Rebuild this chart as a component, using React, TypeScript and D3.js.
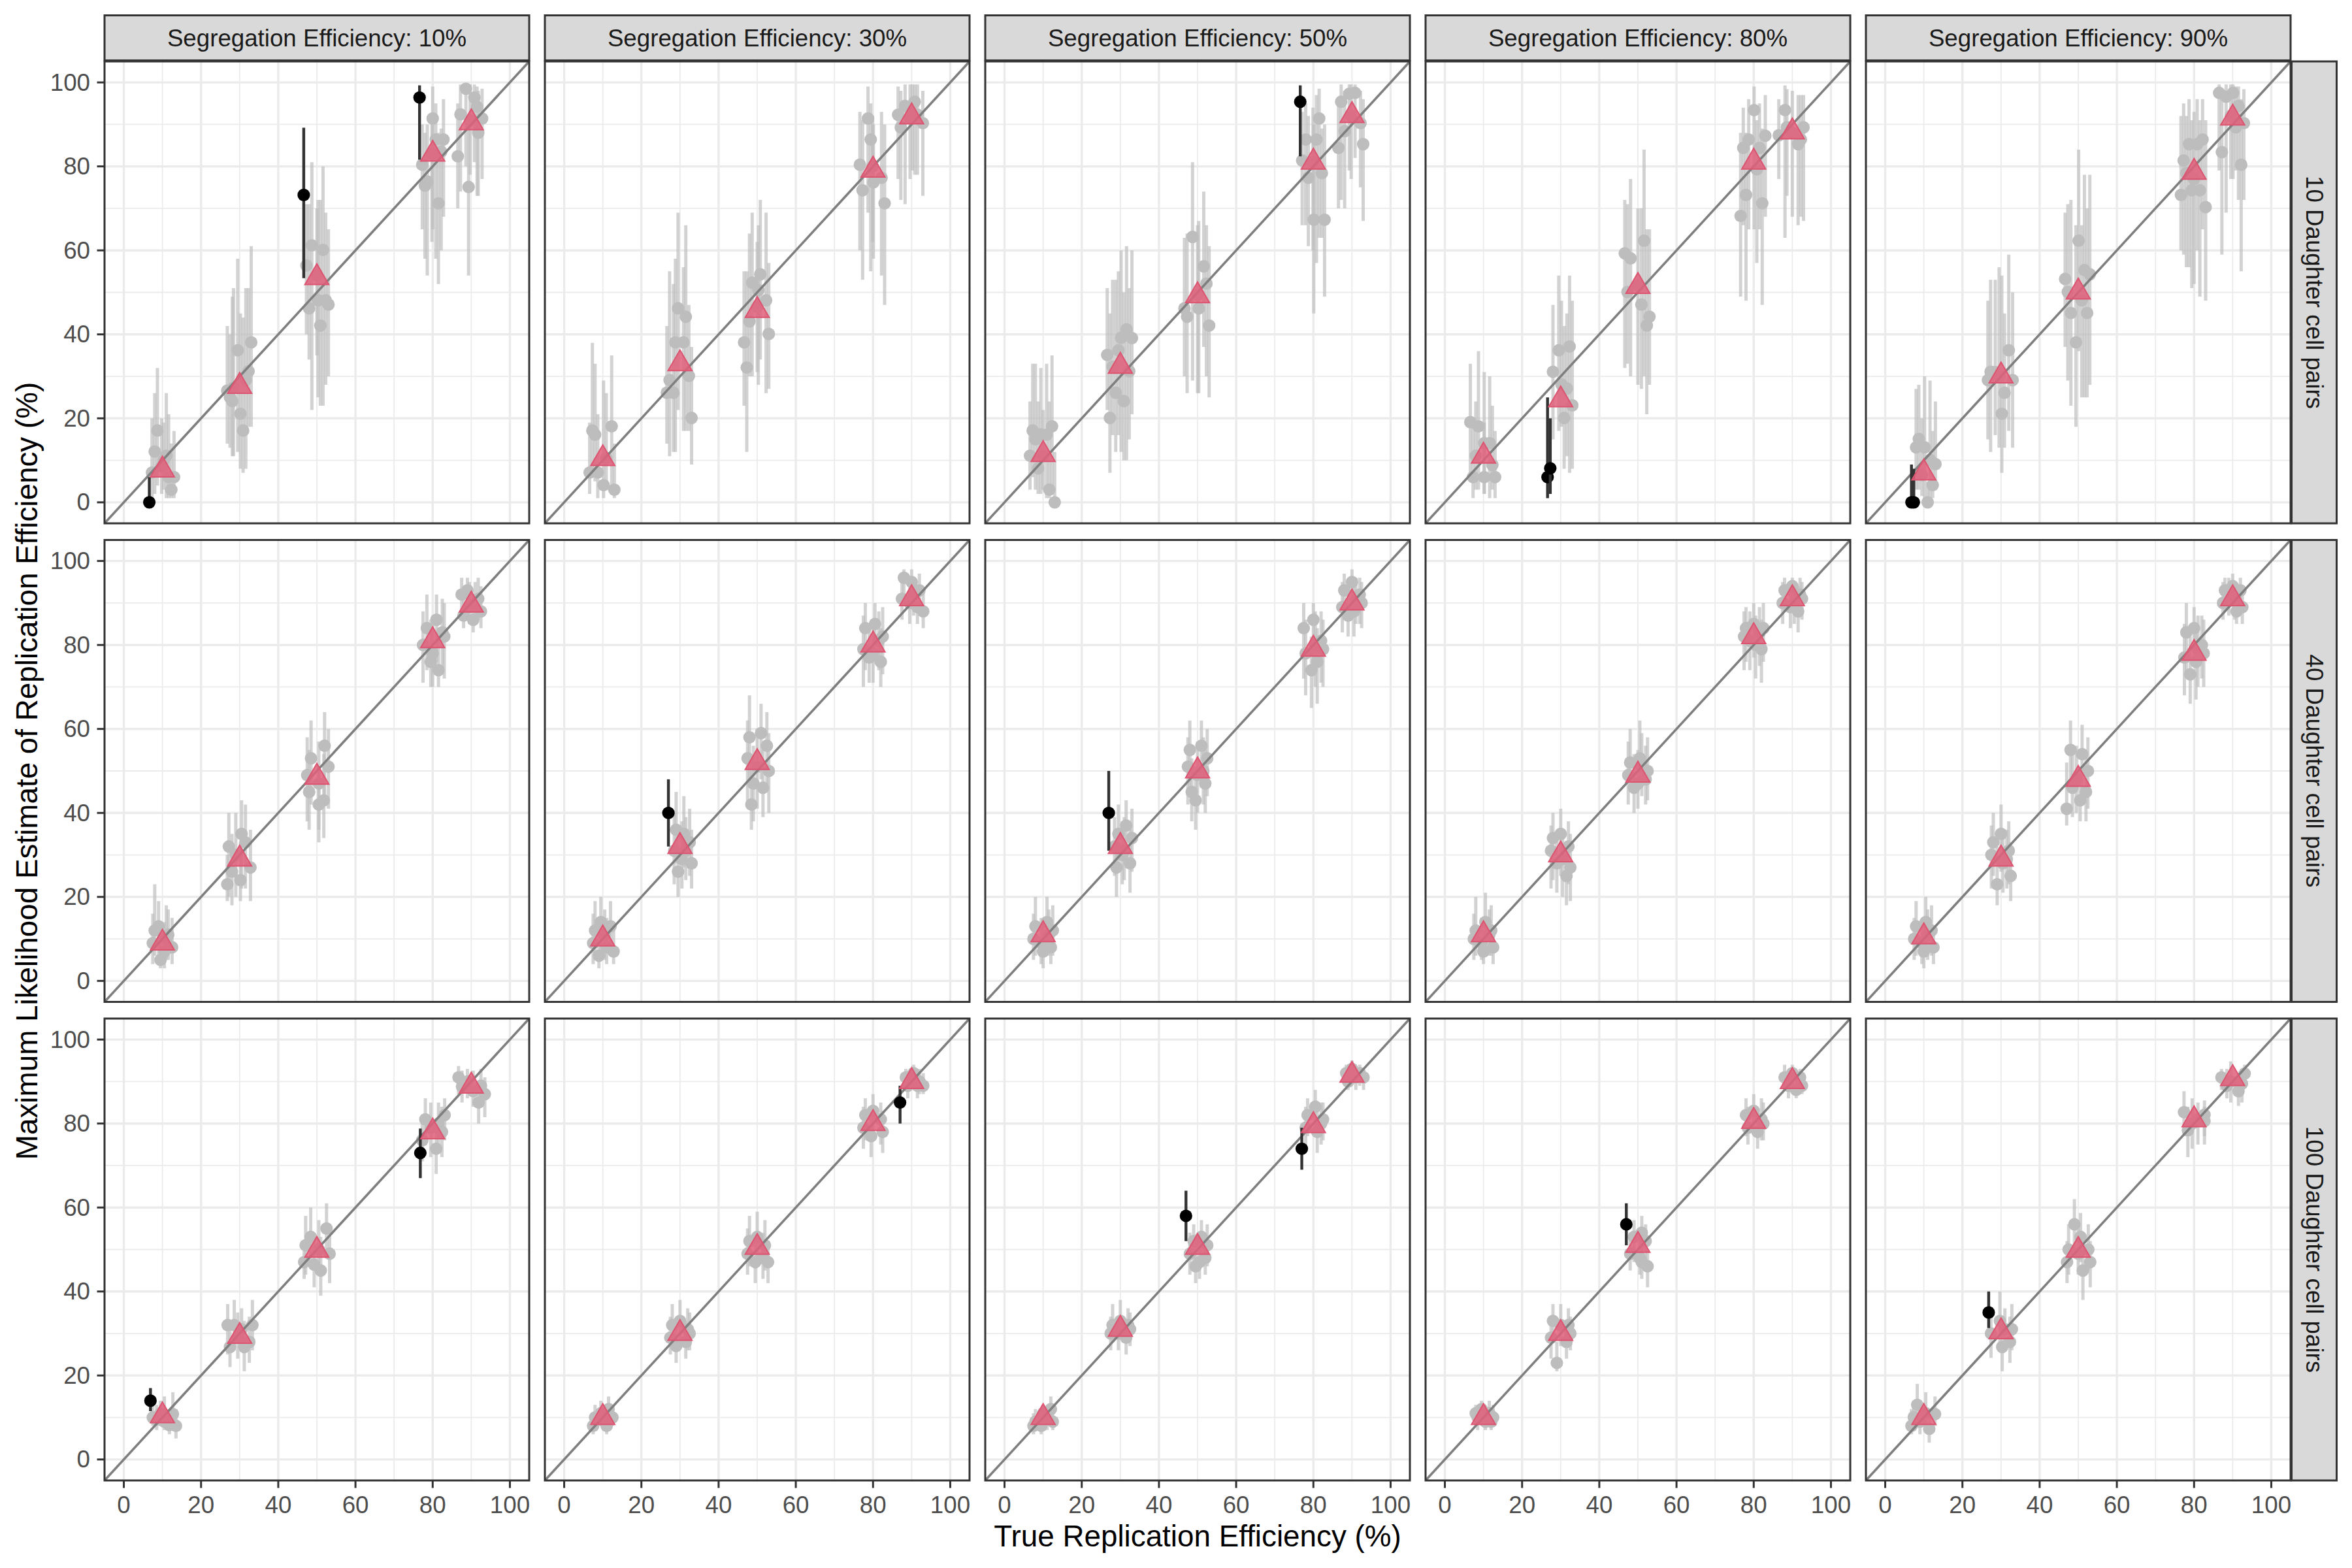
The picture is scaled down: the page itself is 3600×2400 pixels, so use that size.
import React from 'react';
import * as d3 from 'd3';

const segregation = [10, 30, 50, 80, 90];
const daughterPairs = [10, 40, 100];
const ticks = [0, 20, 40, 60, 80, 100];
const minorTicks = [10, 30, 50, 70, 90];

// each entry: [true x (jittered), estimate, lower, upper]
const est10_s10 = [
  [8.7, 17.1, 4, 32], [8.0, 12.1, 2, 26], [11.0, 11.1, 1, 26], [7.3, 7.1, 1, 20], [11.6, 6.0, 1, 21], [13.0, 6.0, 1, 17], [12.3, 3.0, 1, 14], [9.8, 8.5, 2, 20], [10.3, 10, 3, 19],
  [29.5, 36.2, 12, 58], [33.0, 38.1, 18, 61], [32.3, 31.2, 18, 51], [31.6, 29.1, 8, 51], [26.8, 26.6, 14, 42], [28.1, 24.1, 11, 49], [30.2, 21.1, 8, 45], [30.9, 17.1, 7, 44], [28.4, 27.3, 11, 51], [27.5, 25, 13, 40],
  [48.7, 61.2, 22, 81], [51.6, 60.1, 23, 80], [47.3, 56.4, 40, 71], [50.3, 48.1, 25, 72], [52.3, 48.1, 28, 69], [53.0, 47.1, 30, 65], [48.0, 46.2, 34, 71], [50.9, 42.1, 23, 72], [50.0, 54, 35, 70],
  [80.0, 91.4, 65, 99], [80.8, 86.4, 58, 95], [82.8, 86.4, 68, 96], [82.2, 83.5, 60, 89], [77.3, 80.4, 65, 90], [78.6, 76.4, 54, 90], [78.0, 75.4, 58, 88], [81.5, 71.2, 52, 88], [79.8, 83, 62, 92],
  [88.6, 98.5, 80, 99.5], [90.8, 96.4, 81, 99.5], [91.5, 94.2, 73, 99], [87.2, 92.4, 74, 99.5], [92.8, 91.4, 77, 98.5], [86.5, 82.4, 70, 95], [89.3, 75.1, 54, 92], [89.7, 91, 78, 99.5], [91.8, 88, 73, 98],
];
const est10_s30 = [
  [7.3, 17.1, 6, 38], [8.0, 16.1, 5, 33], [12.3, 18.1, 4, 35], [6.6, 7.1, 2, 19], [8.7, 7.1, 1, 21], [10.2, 4.1, 1, 29], [13.0, 3.0, 1, 14], [10.9, 10.5, 3, 26],
  [29.5, 46.2, 22, 69], [31.5, 44.2, 17, 66], [28.8, 38.1, 12, 58], [30.9, 38.1, 17, 56], [32.3, 30.1, 17, 47], [27.3, 29.1, 11, 55], [26.6, 26.1, 14, 42], [28.3, 26.1, 12, 52], [33.0, 20.1, 9, 37],
  [50.8, 54.3, 34, 72], [48.7, 52.3, 30, 69], [50.3, 50.5, 28, 66], [52.3, 48.1, 26, 69], [48.0, 43.1, 30, 64], [53.0, 40.1, 27, 57], [46.6, 38.1, 23, 55], [47.3, 32.1, 12, 55], [50.0, 46.5, 31, 62],
  [78.7, 91.4, 69, 99], [79.4, 86.4, 55, 95], [76.6, 80.4, 60, 93], [82.2, 77.3, 54, 93], [80.1, 76.2, 58, 90], [77.3, 74.3, 53, 91], [83.0, 71.2, 47, 90], [79.9, 80, 62, 92],
  [90.8, 95.4, 78, 99.5], [88.3, 94.4, 71, 99.5], [86.5, 92.3, 77, 99], [91.5, 92.3, 78, 99.5], [92.9, 90.3, 73, 98], [87.2, 89.3, 72, 98], [89.6, 91.5, 77, 99.5], [90.2, 93, 79, 99.5],
];
const est10_s50 = [
  [7.3, 17.1, 6, 33], [12.3, 18.1, 4, 35], [8.0, 15, 3, 33], [9.4, 16.2, 2, 32], [10.9, 16.1, 1, 33], [6.6, 11.1, 3, 24], [8.7, 8.1, 2, 24], [11.6, 3.0, 1, 24], [13.0, 0, 0, 12], [10.0, 11, 3, 22],
  [31.6, 41.2, 10, 61], [30.2, 39.2, 12, 60], [33.0, 39.1, 21, 60], [29.5, 36.2, 16, 55], [26.6, 35.1, 22, 51], [32.3, 31.2, 15, 51], [28.8, 26.1, 12, 53], [30.9, 24.1, 10, 50], [27.3, 20.1, 7, 45], [28.0, 32.3, 16, 53],
  [48.7, 63.2, 29, 81], [51.6, 56.2, 37, 74], [52.3, 52.1, 30, 66], [46.6, 46.2, 30, 63], [50.3, 46.2, 26, 67], [47.3, 44.2, 26, 64], [53.0, 42.1, 25, 61], [50.0, 49.4, 26, 66],
  [81.5, 91.4, 63, 98.5], [78.0, 86.4, 66, 95], [80.8, 86.4, 57, 97], [77.1, 81.4, 66, 93], [78.7, 77.3, 61, 92], [82.2, 78.4, 63, 89], [80.1, 67.3, 45, 90], [82.9, 67.3, 49, 90], [79.9, 81, 60, 94],
  [90.8, 97.5, 82, 99.5], [89.3, 97.3, 79, 99.5], [87.2, 95.4, 72, 99.5], [92.2, 90.3, 75, 98], [88.1, 88.4, 70, 98], [92.9, 85.3, 67, 96], [86.5, 84.4, 70, 96], [89.8, 92, 77, 99.5],
];
const est10_s80 = [
  [6.6, 19.1, 6, 33], [8.7, 18.1, 3, 36], [10.2, 14.1, 2, 31], [11.6, 14.1, 1, 30], [8.0, 11.1, 3, 24], [12.3, 8.9, 3, 23], [7.3, 6.0, 1, 18], [10.2, 6.0, 2, 19], [13.0, 6.0, 1, 17],
  [29.5, 36.2, 17, 54], [32.3, 37.1, 7, 54], [28.0, 31.1, 15, 47], [30.2, 28.1, 18, 48], [31.6, 27.1, 11, 45], [33.0, 23.1, 8, 48], [30.9, 20.1, 8, 42],
  [51.6, 62.3, 30, 84], [46.6, 59.3, 32, 72], [48.1, 58.1, 30, 77], [47.3, 50.1, 33, 71], [50.9, 47.1, 27, 70], [53.0, 44.2, 28, 65], [52.3, 42.1, 21, 65], [50.0, 51.6, 28, 70],
  [80.1, 93.4, 65, 99], [83.0, 87.3, 68, 97], [78.7, 86.4, 65, 96], [77.3, 84.4, 66, 94], [81.5, 84.4, 65, 95], [80.8, 79.3, 57, 91], [78.0, 73.2, 48, 88], [82.2, 71.2, 47, 89], [76.6, 68.2, 49, 88],
  [88.1, 93.4, 63, 99.3], [92.9, 89.3, 67, 97], [88.6, 89.3, 73, 98.4], [86.5, 87.4, 77, 96], [92.2, 86.4, 68, 97], [91.5, 85.3, 66, 97], [90.0, 88, 68, 98],
];
const est10_s90 = [
  [8.7, 15.1, 3, 28], [8.0, 13.1, 3, 27], [10.2, 13.1, 1, 30], [11.6, 10.1, 1, 29], [13.0, 9.1, 3, 24], [12.3, 4.1, 1, 17], [11.0, 0, 0, 5], [9.5, 6.5, 1.5, 20],
  [32.0, 36.2, 17, 59], [27.3, 31.1, 12, 53], [29.5, 30.1, 13, 56], [33.0, 29.1, 13, 50], [26.6, 29.1, 15, 48], [30.9, 26.1, 13, 45], [30.2, 21.1, 7, 54], [28.5, 31, 16, 53],
  [50.1, 62.3, 36, 84], [51.6, 55.3, 25, 78], [53.0, 54.3, 28, 78], [46.6, 53.2, 37, 69], [47.3, 50.1, 29, 71], [50.9, 48.1, 25, 66], [48.1, 45.1, 23, 72], [52.3, 45.1, 25, 70], [49.4, 38.1, 18, 66],
  [82.2, 86.4, 65, 96], [78.7, 85.3, 56, 96], [80.8, 85.3, 60, 96], [77.3, 81.4, 59, 95], [78.0, 78.4, 56, 92], [79.4, 74.3, 51, 91], [81.5, 74.3, 49, 91], [76.6, 73.2, 60, 92], [83.0, 70.3, 48, 91], [80.0, 77, 52, 93],
  [86.5, 97.5, 79, 99.5], [90.1, 97.5, 77, 99.5], [88.3, 96.6, 69, 99.5], [91.5, 94.4, 72, 99], [92.9, 90.3, 72, 98.4], [90.8, 89.3, 79, 99], [87.2, 83.4, 59, 98], [92.2, 80.4, 55, 96], [89.5, 92, 77, 99.5],
];

const est40_s10 = [
  [8.0, 12, 6, 23], [9.0, 13, 5, 19], [11.5, 11, 5, 17], [7.5, 9, 4, 16], [12.5, 8, 4, 15], [10.5, 7, 3, 14], [9.5, 5, 3, 12], [11, 10, 5, 18],
  [27.2, 32, 20, 40], [30.5, 35, 22, 43], [31.5, 33, 22, 42], [29, 30, 20, 40], [32.8, 27, 19, 36], [28, 26, 18, 35], [30.2, 24, 19, 33], [26.8, 23, 19, 30],
  [52, 56, 44, 64], [48.5, 53, 42, 62], [53, 51, 41, 60], [47.5, 49, 38, 58], [50.5, 47, 36, 57], [48, 45, 36, 55], [51.8, 43, 34, 54], [50.5, 42, 33, 51],
  [78.5, 84, 74, 92], [81, 86, 76, 92], [82.5, 83, 73, 91], [77.5, 80, 71, 88], [80, 78, 70, 87], [83, 82, 72, 90], [79.5, 76, 70, 86], [81.5, 74, 70, 84],
  [87.5, 92, 86, 96], [89, 93, 87, 96], [91, 90, 85, 95], [92.5, 88, 84, 94], [88, 87, 84, 93], [90.5, 86, 83, 92], [89.5, 89, 85, 95], [91.8, 91, 86, 96],
];
const est40_s30 = [
  [8, 12, 5, 19], [9.5, 14, 6, 20], [12, 13, 6, 19], [7.5, 9, 4, 16], [11, 8, 4, 15], [12.8, 7, 4, 13], [9, 6, 3, 12], [10.5, 11, 5, 17],
  [29, 36, 28, 45], [31, 35, 27, 44], [32.5, 33, 25, 41], [28.5, 31, 23, 40], [30.5, 29, 22, 38], [33, 28, 22, 36], [29.5, 26, 20, 35], [31.5, 31, 24, 39],
  [48, 58, 46, 68], [51, 59, 48, 66], [52.5, 56, 45, 64], [47.5, 53, 42, 62], [50, 51, 41, 60], [53, 50, 40, 59], [49, 47, 38, 56], [48.5, 42, 36, 52], [51.5, 46, 39, 55],
  [78, 84, 74, 90], [80.5, 85, 76, 90], [82.5, 82, 73, 89], [77.5, 79, 70, 87], [80, 78, 71, 86], [82, 76, 70, 84], [79, 77, 71, 85], [81.5, 81, 74, 88],
  [88, 96, 90, 98], [90, 95, 89, 98], [92, 93, 87, 97], [87.5, 91, 86, 96], [89.5, 90, 85, 95], [91.5, 89, 85, 94], [93, 88, 84, 93], [90.5, 92, 87, 96],
];
const est40_s50 = [
  [8, 13, 6, 20], [11, 14, 7, 20], [12.5, 12, 6, 18], [7.5, 10, 5, 16], [9.5, 9, 4, 15], [12, 8, 4, 14], [10, 7, 3, 13], [11.5, 11, 6, 17],
  [29.5, 35, 27, 42], [31.5, 37, 28, 43], [33, 34, 26, 41], [28.5, 32, 25, 39], [30.5, 30, 23, 38], [32.5, 28, 21, 36], [29, 27, 20, 35], [31, 31, 24, 39],
  [48, 55, 44, 62], [51, 56, 46, 62], [52.5, 53, 44, 60], [47.5, 51, 42, 58], [50, 49, 40, 57], [52, 47, 40, 55], [48.5, 45, 38, 53], [49.5, 43, 36, 51], [51.5, 50, 42, 58],
  [77.5, 84, 72, 90], [80, 86, 74, 90], [82, 81, 71, 88], [78, 78, 68, 86], [81, 76, 66, 84], [79.5, 74, 65, 82], [82.5, 79, 70, 86], [80.5, 80, 70, 88],
  [88, 93, 86, 97], [90, 95, 88, 98], [92, 92, 85, 96], [87.5, 89, 83, 95], [90.5, 88, 82, 94], [92.5, 90, 84, 95], [89, 87, 82, 93], [91, 91, 85, 96],
];
const est40_s80 = [
  [8, 12, 6, 20], [10.5, 14, 7, 21], [12, 12, 6, 18], [7.5, 10, 5, 16], [9.5, 9, 5, 15], [12.5, 8, 4, 13], [10, 7, 4, 12], [11.5, 11, 6, 17],
  [28, 34, 24, 40], [30, 35, 25, 41], [32, 32, 23, 38], [27.5, 31, 22, 37], [30.5, 29, 20, 36], [32.5, 27, 19, 35], [29, 28, 21, 34], [31.5, 25, 18, 33],
  [48, 52, 45, 60], [50.5, 53, 46, 62], [52.5, 50, 43, 58], [47.5, 49, 42, 57], [50, 47, 41, 55], [52, 48, 42, 56], [49, 46, 40, 54], [51, 51, 44, 59],
  [78, 84, 76, 89], [80, 85, 77, 90], [82.5, 84, 76, 90], [77.5, 82, 74, 88], [80.5, 80, 72, 87], [82, 79, 71, 86], [79, 81, 74, 88], [81.5, 83, 75, 89],
  [88, 93, 88, 96], [90, 94, 89, 96], [92, 92, 87, 96], [87.5, 90, 85, 95], [89.5, 89, 84, 94], [91.5, 88, 83, 94], [92.5, 91, 86, 95], [90.5, 90, 85, 95],
];
const est40_s90 = [
  [8, 13, 6, 19], [10.5, 14, 7, 20], [12, 12, 6, 18], [7.5, 10, 5, 15], [9.5, 9, 4, 14], [12.5, 8, 4, 13], [10, 7, 3, 12], [11, 11, 5, 17],
  [28, 33, 25, 40], [30, 35, 26, 42], [32, 31, 23, 38], [27.5, 30, 22, 37], [30.5, 28, 21, 35], [32.5, 25, 19, 33], [29, 23, 18, 32], [31.5, 29, 22, 36],
  [48, 55, 45, 62], [51, 54, 44, 61], [52.5, 50, 41, 58], [47, 41, 37, 52], [49.5, 48, 40, 56], [52, 45, 38, 54], [48.5, 46, 39, 54], [50.5, 43, 38, 50],
  [78, 83, 73, 90], [80, 84, 75, 89], [82, 80, 72, 87], [77.5, 77, 68, 85], [80.5, 76, 67, 84], [79, 73, 66, 82], [82.5, 78, 70, 86], [81, 79, 70, 87],
  [88, 93, 88, 96], [90, 94, 89, 97], [92, 93, 88, 96], [87.5, 90, 86, 95], [90.5, 91, 86, 95], [92.5, 89, 85, 94], [89, 92, 87, 96], [91, 88, 85, 93],
];

const est100_s10 = [
  [7.5, 10, 8, 14], [12.7, 10.8, 8, 16], [13.5, 8, 5, 12], [11.8, 8.2, 6, 12], [9.5, 11, 8, 14], [10.5, 9, 7, 15], [8.5, 9.5, 7, 13],
  [26.9, 32, 25, 37], [28.6, 32, 26, 38], [33.3, 32, 26, 38], [27.5, 26.8, 22, 32], [31.2, 26.8, 21, 33], [32.5, 28, 23, 34], [29.5, 29, 24, 35], [30.5, 31, 26, 36],
  [48.4, 53, 46, 60], [47.1, 51, 44, 58], [46.7, 47, 43, 52], [52.5, 55, 48, 61], [53.3, 49, 42, 56], [51, 45, 39, 53], [49.3, 46.4, 41, 52], [50.5, 50, 44, 57],
  [78.1, 81, 75, 86], [83.1, 82, 76, 86], [82.4, 78, 72, 84], [77.3, 76, 71, 81], [80.9, 74, 68, 79], [79.5, 79, 72, 85], [81.5, 80, 74, 85],
  [86.7, 91, 87, 93.7], [87.6, 88.8, 85, 92.6], [91.9, 85, 80, 90], [93.5, 87, 81.5, 91], [90.5, 87.7, 84, 92.6], [89, 90, 86, 93], [92.5, 89, 84, 93],
];
const est100_s30 = [
  [8, 10, 7, 13], [9.5, 11, 8, 14], [11.5, 12, 9, 15], [12.5, 10, 8, 13], [7.5, 8, 6, 11], [10.5, 9, 7, 12], [11, 8, 6, 11],
  [28, 32, 27, 37], [30, 33, 28, 38], [32, 31, 26, 36], [27.5, 29, 25, 34], [31.5, 28, 24, 33], [29, 27, 23, 32], [32.5, 30, 26, 35],
  [48, 52, 46, 58], [50, 53, 47, 59], [52, 51, 45, 57], [47.5, 49, 44, 55], [49.5, 47, 42, 53], [51.5, 48, 43, 54], [52.8, 47, 42, 52],
  [78, 82, 76, 86], [80, 83, 77, 87], [82, 81, 75, 85], [77.5, 79, 74, 84], [79.5, 77, 72, 82], [82.5, 78, 73, 83],
  [88.5, 91, 88, 93], [90.5, 92, 89, 94], [92, 90, 87, 93], [89, 89, 86, 92], [91.5, 89, 86, 92], [93, 89, 87, 92],
];
const est100_s50 = [
  [8, 9, 7, 12], [10, 11, 8, 13], [12, 12, 9, 15], [7.5, 8, 6, 11], [11, 10, 7, 12], [12.5, 9, 7, 12], [9.5, 8, 6, 11],
  [28, 32, 28, 37], [30, 33, 29, 38], [32, 32, 28, 36], [27.5, 30, 26, 34], [31.5, 29, 25, 33], [29.5, 30, 26, 34], [32.5, 31, 27, 35],
  [49, 52, 46, 56], [51, 53, 48, 57], [52.5, 51, 46, 56], [48, 49, 44, 54], [50.5, 47, 43, 52], [52, 48, 44, 53], [49.5, 46, 42, 51],
  [78.5, 82, 77, 86], [80.5, 84, 78, 88], [82, 80, 75, 85], [78, 79, 74, 84], [81, 78, 73, 83], [82.5, 81, 76, 85],
  [88.5, 92, 90, 94], [90, 93, 90, 95], [92, 92, 89, 94], [89, 90, 88, 93], [91, 91, 88, 93], [93, 91, 88, 93],
];
const est100_s80 = [
  [8, 11, 8, 13], [9.5, 12, 9, 14], [11.5, 11, 8, 14], [12.5, 10, 8, 13], [8.5, 10, 7, 12], [10.5, 9, 7, 11], [12, 9, 7, 11],
  [28, 33, 28, 37], [30, 32, 27, 37], [32, 32, 27, 36], [27.5, 29, 24, 34], [29, 23, 21, 28], [31.5, 28, 24, 33], [32.5, 30, 26, 34],
  [49, 53, 47, 57], [51, 54, 49, 58], [52, 52, 47, 56], [48, 49, 45, 54], [50.5, 48, 44, 52], [52.5, 46, 41, 50], [51, 47, 43, 52],
  [78, 82, 77, 86], [80, 83, 78, 87], [82, 81, 76, 86], [78.5, 79, 75, 84], [81, 78, 74, 83], [82.5, 80, 76, 85],
  [88, 91, 88, 94], [90, 92, 89, 94], [92, 91, 88, 93], [89, 89, 86, 92], [91, 88, 86, 91], [92.5, 89, 87, 92],
];
const est100_s90 = [
  [8.3, 13, 9, 18], [7.4, 10.1, 7, 14], [12.9, 10.8, 8, 15], [6.8, 8, 6, 12], [11.4, 7.3, 4, 12], [10.5, 11, 8, 16], [9, 9, 6, 13],
  [29.7, 33, 28, 40], [32.8, 31, 26, 37], [27.4, 30, 24.2, 35], [32.3, 28, 23, 34], [30.3, 26.8, 21, 32], [31, 31, 27, 36],
  [49, 56, 50, 62], [50.6, 53, 47, 58.7], [47.5, 50, 44, 56], [52.6, 50, 45, 56], [47.1, 47, 42, 52], [53.1, 47, 41, 52], [51.2, 45, 38, 50], [50, 49, 44, 55],
  [77.4, 82.7, 77, 87.7], [82.7, 82.1, 77, 85.5], [78.4, 78.4, 72, 84], [82.7, 80.6, 75, 84], [79.5, 80, 74, 86], [81, 81, 75, 85],
  [87.1, 91, 88, 93], [93.1, 91.9, 89, 94], [92.4, 89.5, 85, 93], [91.5, 87.7, 84.2, 92], [89.5, 90, 85, 94.8], [88.5, 89, 86, 93],
];

// mean estimate per true value (10, 30, 50, 80, 90), one list per segregation efficiency
const means10 = [[7.7, 27.6, 53.5, 82.9, 90.4], [10.4, 33, 45.7, 79.1, 91.8], [11.4, 32.4, 49.2, 81, 92.1], [11, 24.4, 51.4, 81, 88.2], [7, 30.1, 50.1, 78.6, 91.5]];
const means40 = [[9, 29, 48.5, 81, 89.5], [10, 32, 52, 80, 91], [11, 32, 50, 79, 90], [11, 30, 49, 82, 91], [10.5, 29, 48, 78, 91]];
const means100 = [[10.4, 29.3, 49.8, 78, 88.9], [10, 30, 50.5, 80, 90], [10, 31, 50.5, 79.5, 91.5], [10, 30, 51, 80.5, 90], [10, 30.4, 49.8, 80.9, 90.7]];
const trueRep = [10, 30, 50, 80, 90];

// intervals that miss the true value: [row, col, x, estimate, lower, upper]
const misses = [
  [0, 0, 6.6, 0, 0, 6], [0, 0, 46.6, 73.2, 53.4, 89.2], [0, 0, 76.6, 96.4, 81.6, 99.3],
  [0, 2, 76.6, 95.4, 82.4, 99.3],
  [0, 3, 26.6, 6, 1, 25], [0, 3, 27.3, 8.1, 2, 20],
  [0, 4, 6.8, 0, 0, 9], [0, 4, 7.4, 0, 0, 8],
  [1, 1, 27, 40, 32, 48], [1, 2, 27, 40, 31, 50],
  [2, 0, 6.9, 14, 11.5, 17], [2, 0, 76.8, 73, 67, 78.8],
  [2, 1, 87, 85, 80, 89],
  [2, 2, 47, 58, 52, 64], [2, 2, 77, 74, 69, 79],
  [2, 3, 47, 56, 51, 61],
  [2, 4, 26.8, 35, 31.3, 40],
];

const grid = [
  [est10_s10, est10_s30, est10_s50, est10_s80, est10_s90],
  [est40_s10, est40_s30, est40_s50, est40_s80, est40_s90],
  [est100_s10, est100_s30, est100_s50, est100_s80, est100_s90],
];
const meanRows = [means10, means40, means100];

const W = 3600, H = 2400;
const left = 160, top = 94, pw = 650, ph = 707, stepX = 674, stepY = 732.5;
const font = '"Liberation Sans", Arial, Helvetica, sans-serif';

const x = d3.scaleLinear().domain([-5, 105]).range([0, pw]);
const y = d3.scaleLinear().domain([-5, 105]).range([ph, 0]);
const tri = d3.symbol().type(d3.symbolTriangle).size(580)();

function Panel({ r, c }: { r: number; c: number }) {
  const px = left + c * stepX;
  const py = top + r * stepY;
  const pts = grid[r][c];
  const miss = misses.filter(m => m[0] === r && m[1] === c);
  const id = `clip${r}${c}`;
  return (
    <g transform={`translate(${px},${py})`}>
      <defs>
        <clipPath id={id}><rect width={pw} height={ph} /></clipPath>
      </defs>
      <rect width={pw} height={ph} fill="#fff" />
      <g clipPath={`url(#${id})`}>
        {minorTicks.map(t => (
          <g key={'m' + t}>
            <line x1={x(t)} x2={x(t)} y1={0} y2={ph} stroke="#ebebeb" strokeWidth={1.8} />
            <line x1={0} x2={pw} y1={y(t)} y2={y(t)} stroke="#ebebeb" strokeWidth={1.8} />
          </g>
        ))}
        {ticks.map(t => (
          <g key={'M' + t}>
            <line x1={x(t)} x2={x(t)} y1={0} y2={ph} stroke="#ebebeb" strokeWidth={3.4} />
            <line x1={0} x2={pw} y1={y(t)} y2={y(t)} stroke="#ebebeb" strokeWidth={3.4} />
          </g>
        ))}
        {pts.map((d, i) => (
          <line key={'b' + i} x1={x(d[0])} x2={x(d[0])} y1={y(d[2])} y2={y(d[3])}
            stroke="#bdbdbd" strokeOpacity={0.68} strokeWidth={5} />
        ))}
        {pts.map((d, i) => (
          <circle key={'p' + i} cx={x(d[0])} cy={y(d[1])} r={9.6} fill="#bdbdbd" />
        ))}
        <line x1={x(-5)} y1={y(-5)} x2={x(105)} y2={y(105)} stroke="#7f7f7f" strokeWidth={3.6} />
        {miss.map((m, i) => (
          <g key={'k' + i}>
            <line x1={x(m[2])} x2={x(m[2])} y1={y(m[4])} y2={y(m[5])} stroke="#333" strokeWidth={4.4} />
            <circle cx={x(m[2])} cy={y(m[3])} r={9.6} fill="#000" />
          </g>
        ))}
        {meanRows[r][c].map((v, i) => (
          <path key={'t' + i} d={tri as string} transform={`translate(${x(trueRep[i])},${y(v)})`}
            fill="#e0607a" fillOpacity={0.85} stroke="#dc5470" strokeWidth={2} />
        ))}
      </g>
      <rect width={pw} height={ph} fill="none" stroke="#333" strokeWidth={3} />
      {r === 0 && (
        <g>
          <rect x={0} y={-70.5} width={pw} height={69} fill="#d9d9d9" stroke="#333" strokeWidth={3} />
          <text x={pw / 2} y={-36} textAnchor="middle" dominantBaseline="central" fontSize={36.7} fill="#1a1a1a" fontFamily={font}>
            {`Segregation Efficiency: ${segregation[c]}%`}
          </text>
        </g>
      )}
      {c === 4 && (
        <g>
          <rect x={pw + 1.5} y={0} width={69} height={ph} fill="#d9d9d9" stroke="#333" strokeWidth={3} />
          <text transform={`translate(${pw + 36},${ph / 2}) rotate(90)`} textAnchor="middle" dominantBaseline="central"
            fontSize={36.7} fill="#1a1a1a" fontFamily={font}>
            {`${daughterPairs[r]} Daughter cell pairs`}
          </text>
        </g>
      )}
      {c === 0 && ticks.map(t => (
        <g key={'yt' + t}>
          <line x1={-11.5} x2={0} y1={y(t)} y2={y(t)} stroke="#333" strokeWidth={3} />
          <text x={-22} y={y(t)} textAnchor="end" dominantBaseline="central" fontSize={36.7} fill="#4d4d4d" fontFamily={font}>{t}</text>
        </g>
      ))}
      {r === 2 && ticks.map(t => (
        <g key={'xt' + t}>
          <line x1={x(t)} x2={x(t)} y1={ph} y2={ph + 11.5} stroke="#333" strokeWidth={3} />
          <text x={x(t)} y={ph + 50} textAnchor="middle" fontSize={36.7} fill="#4d4d4d" fontFamily={font}>{t}</text>
        </g>
      ))}
    </g>
  );
}

export default function App() {
  const cells: [number, number][] = [];
  for (let r = 0; r < 3; r++) for (let c = 0; c < 5; c++) cells.push([r, c]);
  const midY = top + (2 * stepY + ph) / 2;
  const midX = left + (4 * stepX + pw) / 2;
  return (
    <svg width={W} height={H} style={{ position: 'absolute', left: 0, top: 0, background: '#fff' }}>
      <rect width={W} height={H} fill="#fff" />
      {cells.map(([r, c]) => <Panel key={`${r}-${c}`} r={r} c={c} />)}
      <text transform={`translate(41,${midY}) rotate(-90)`} textAnchor="middle" dominantBaseline="central"
        fontSize={45.8} fill="#000" fontFamily={font}>
        Maximum Likelihood Estimate of Replication Efficiency (%)
      </text>
      <text x={midX} y={2367} textAnchor="middle" fontSize={45.8} fill="#000" fontFamily={font}>
        True Replication Efficiency (%)
      </text>
    </svg>
  );
}
